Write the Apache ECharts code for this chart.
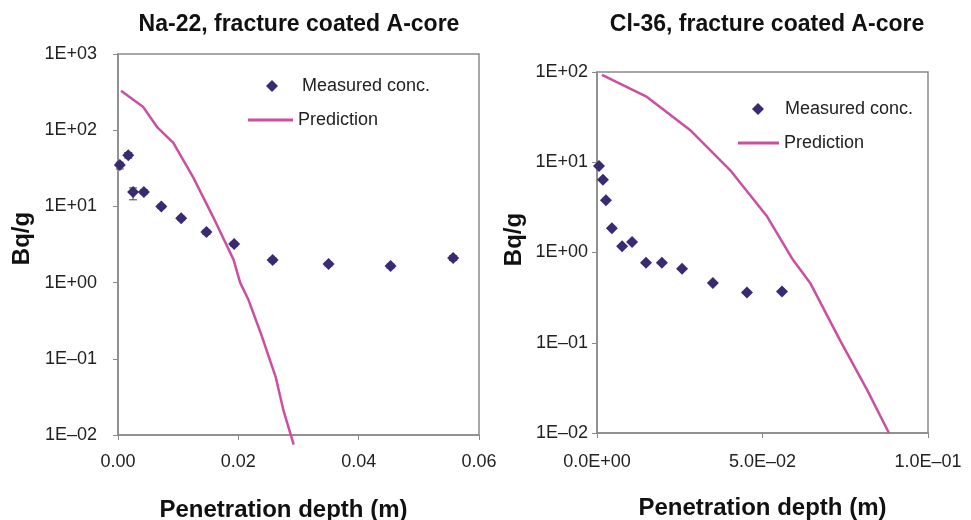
<!DOCTYPE html>
<html>
<head>
<meta charset="utf-8">
<script src="https://cdn.jsdelivr.net/npm/echarts@6/dist/echarts.min.js"></script>
<style>
  html, body { margin: 0; padding: 0; background: #fff; }
  #chart { width: 971px; height: 520px; }
</style>
</head>
<body>
<div id="chart"></div>
<script>
// Na-22 measured concentrations [depth m, Bq/g]
var naDepth = [0.0003, 0.0017, 0.0025, 0.0043, 0.0072, 0.0105, 0.0147, 0.0193, 0.0257, 0.035, 0.0453, 0.0557];
var naConc  = [35, 47, 15.5, 15.5, 10, 7.0, 4.6, 3.2, 1.98, 1.75, 1.65, 2.1];
var naErrLo = [31, 43, 12.2, 14.5, 9.4, 6.6, 4.3, 3.0, 1.85, 1.65, 1.55, 1.95];
var naErrHi = [38, 51, 17.5, 16.5, 10.6, 7.4, 4.9, 3.4, 2.1, 1.85, 1.75, 2.25];
// Na-22 prediction
var naPredDepth = [0.0005, 0.0042, 0.0065, 0.0092, 0.0125, 0.0158, 0.0192, 0.0203, 0.0217, 0.0237, 0.0262, 0.0275, 0.0292];
var naPredConc  = [330, 201, 110, 68, 24, 7.3, 2.0, 1.0, 0.59, 0.22, 0.058, 0.021, 0.0075];

// Cl-36 measured concentrations
var clDepth = [0.0006, 0.0018, 0.0027, 0.0045, 0.0076, 0.0106, 0.0148, 0.0196, 0.0257, 0.035, 0.0453, 0.0559];
var clConc  = [9.1, 6.4, 3.8, 1.86, 1.17, 1.31, 0.77, 0.77, 0.66, 0.46, 0.36, 0.37];
// Cl-36 prediction
var clPredDepth = [0.0015, 0.0151, 0.0281, 0.0402, 0.0514, 0.0592, 0.0644, 0.0734, 0.0816, 0.0882];
var clPredConc  = [93, 53, 22.8, 8.2, 2.5, 0.83, 0.46, 0.107, 0.030, 0.010];

var titles = ['Na-22, fracture coated A-core', 'Cl-36, fracture coated A-core'];
var legendNames = ['Measured conc.', 'Prediction'];
var clXLabels = ['0.0E+00', '5.0E\u201302', '1.0E\u201301'];

function pairs(xs, ys) {
  var out = [];
  for (var i = 0; i < xs.length; i++) out.push([xs[i], ys[i]]);
  return out;
}

// 1E+03 / 1E–01 style labels
function expLabel(v) {
  var e = Math.round(Math.log10(v));
  var s = Math.abs(e) < 10 ? '0' + Math.abs(e) : '' + Math.abs(e);
  return '1E' + (e >= 0 ? '+' : '\u2013') + s;
}

var errData = [];
for (var i = 0; i < naDepth.length; i++) errData.push([naDepth[i], naErrLo[i], naErrHi[i]]);

var markerColor = '#3a2a72';
var lineColor = '#cc4f9f';
var axisGray = '#8a8a8a';
var font = 'Liberation Sans';

var myChart = echarts.init(document.getElementById('chart'));

function yAxisCfg(gridIndex, min, max, gap, labelMargin, namePad) {
  return {
    type: 'log', logBase: 10, gridIndex: gridIndex, min: min, max: max,
    name: 'Bq/g', nameLocation: 'middle', nameGap: gap,
    nameTextStyle: { fontSize: 24, fontWeight: 'bold', color: '#111', fontFamily: font, padding: [0, 0, 0, namePad] },
    axisLine: { show: true, lineStyle: { color: axisGray, width: 1.5 } },
    axisTick: { show: true, length: 5, lineStyle: { color: axisGray } },
    axisLabel: { formatter: expLabel, fontSize: 18, color: '#222', margin: labelMargin, fontFamily: font },
    splitLine: { show: false },
    minorTick: { show: false }
  };
}

function xAxisCfg(gridIndex, max, interval, fmt, labelMargin, namePad) {
  return {
    type: 'value', gridIndex: gridIndex, min: 0, max: max, interval: interval,
    name: 'Penetration depth (m)', nameLocation: 'middle', nameGap: 63,
    nameTextStyle: { fontSize: 24, fontWeight: 'bold', color: '#111', fontFamily: font, padding: [0, namePad, 0, 0] },
    axisLine: { show: true, onZero: false, lineStyle: { color: axisGray, width: 1.5 } },
    axisTick: { show: true, length: 5, lineStyle: { color: axisGray } },
    axisLabel: { formatter: fmt, fontSize: 18, color: '#222', margin: labelMargin, fontFamily: font },
    splitLine: { show: false }
  };
}

function legendCfg(left, top, w, h, name, icon, textPad) {
  return {
    left: left, top: top, itemWidth: w, itemHeight: h, padding: 0,
    textStyle: { fontSize: 18, color: '#222', fontFamily: font, padding: [0, 0, 0, textPad] },
    data: [{ name: name, icon: icon }],
    formatter: function (n) { return n.charAt(2) === 'M' ? legendNames[0] : legendNames[1]; }
  };
}

var option = {
  backgroundColor: '#fff',
  animation: false,
  title: [
    { text: titles[0], left: 294, top: 8, textAlign: 'center',
      textStyle: { fontSize: 23, fontWeight: 'bold', color: '#111', fontFamily: font } },
    { text: titles[1], left: 762, top: 8, textAlign: 'center',
      textStyle: { fontSize: 23, fontWeight: 'bold', color: '#111', fontFamily: font } }
  ],
  legend: [
    legendCfg(266, 77, 12, 12, 'naM', 'diamond', 19),
    legendCfg(248, 111, 45, 3, 'naP', 'rect', 0),
    legendCfg(752, 100, 12, 12, 'clM', 'diamond', 16),
    legendCfg(738, 134, 41, 3, 'clP', 'rect', 0)
  ],
  grid: [
    { left: 118, top: 54, width: 361, height: 381, show: true, borderColor: axisGray, borderWidth: 1.5,
      backgroundColor: '#fff', outerBoundsMode: 'none', containLabel: false },
    { left: 597, top: 72, width: 331, height: 361, show: true, borderColor: axisGray, borderWidth: 1.5,
      backgroundColor: '#fff', outerBoundsMode: 'none', containLabel: false }
  ],
  xAxis: [
    xAxisCfg(0, 0.06, 0.02, function (v) { return v.toFixed(2); }, 18, 30),
    xAxisCfg(1, 0.1, 0.05, function (v) { return clXLabels[Math.round(v / 0.05)]; }, 20, 0)
  ],
  yAxis: [
    yAxisCfg(0, 0.01, 1000, 84, 21, 12),
    yAxisCfg(1, 0.01, 100, 71, 9, 26)
  ],
  series: [
    {
      type: 'custom', xAxisIndex: 0, yAxisIndex: 0, silent: true, z: 1,
      data: errData,
      renderItem: function (params, api) {
        var x = api.value(0);
        var lo = api.coord([x, api.value(1)]);
        var hi = api.coord([x, api.value(2)]);
        var style = { stroke: '#444', lineWidth: 1 };
        return { type: 'group', children: [
          { type: 'line', shape: { x1: lo[0], y1: lo[1], x2: hi[0], y2: hi[1] }, style: style },
          { type: 'line', shape: { x1: lo[0] - 4, y1: lo[1], x2: lo[0] + 4, y2: lo[1] }, style: style },
          { type: 'line', shape: { x1: hi[0] - 4, y1: hi[1], x2: hi[0] + 4, y2: hi[1] }, style: style }
        ] };
      }
    },
    {
      name: 'naM', type: 'scatter', xAxisIndex: 0, yAxisIndex: 0, z: 3,
      symbol: 'diamond', symbolSize: 12,
      itemStyle: { color: markerColor, opacity: 1 },
      data: pairs(naDepth, naConc)
    },
    {
      name: 'naP', type: 'line', xAxisIndex: 0, yAxisIndex: 0, z: 2,
      showSymbol: false, symbol: 'none', clip: false,
      lineStyle: { color: lineColor, width: 2.5 }, itemStyle: { color: lineColor },
      data: pairs(naPredDepth, naPredConc)
    },
    {
      name: 'clM', type: 'scatter', xAxisIndex: 1, yAxisIndex: 1, z: 3,
      symbol: 'diamond', symbolSize: 12,
      itemStyle: { color: markerColor, opacity: 1 },
      data: pairs(clDepth, clConc)
    },
    {
      name: 'clP', type: 'line', xAxisIndex: 1, yAxisIndex: 1, z: 2,
      showSymbol: false, symbol: 'none', clip: false,
      lineStyle: { color: lineColor, width: 2.5 }, itemStyle: { color: lineColor },
      data: pairs(clPredDepth, clPredConc)
    }
  ]
};

myChart.setOption(option);
</script>
</body>
</html>
